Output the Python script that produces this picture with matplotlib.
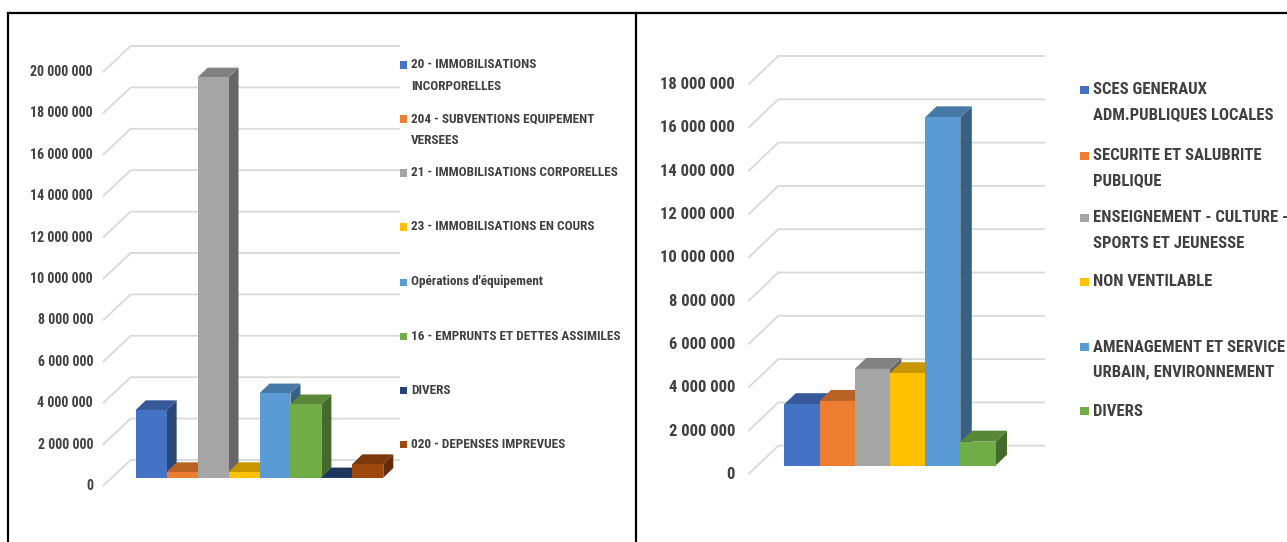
import matplotlib.pyplot as plt
import matplotlib.colors as mcolors
from matplotlib import font_manager
from matplotlib.patches import Polygon, Rectangle
from matplotlib.lines import Line2D
import numpy as np

# ---- data ----
inv_labels = ['20 - IMMOBILISATIONS\nINCORPORELLES',
              '204 - SUBVENTIONS EQUIPEMENT\nVERSEES',
              '21 - IMMOBILISATIONS CORPORELLES',
              '23 - IMMOBILISATIONS EN COURS',
              "Opérations d'équipement",
              '16 - EMPRUNTS ET DETTES ASSIMILES',
              'DIVERS',
              '020 - DEPENSES IMPREVUES']
inv_values = [3270000, 275000, 19340000, 275000, 4080000, 3550000, 20000, 660000]
inv_colors = ['#4472C4', '#ED7D31', '#A5A5A5', '#FFC000',
              '#5B9BD5', '#70AD47', '#264478', '#9E480E']
inv_ticks = np.arange(0, 20000001, 2000000)

fn_labels = ['SCES GENERAUX\nADM.PUBLIQUES LOCALES',
             'SECURITE ET SALUBRITE\nPUBLIQUE',
             'ENSEIGNEMENT - CULTURE -\nSPORTS ET JEUNESSE',
             'NON VENTILABLE',
             'AMENAGEMENT ET SERVICE\nURBAIN, ENVIRONNEMENT',
             'DIVERS']
fn_values = [2840000, 2990000, 4470000, 4270000, 16090000, 1110000]
fn_colors = ['#4472C4', '#ED7D31', '#A5A5A5', '#FFC000', '#5B9BD5', '#70AD47']
fn_ticks = np.arange(0, 18000001, 2000000)

# ---- fonts ----
installed = {f.name for f in font_manager.fontManager.ttflist}
FONT = next(f for f in ['Liberation Sans Narrow', 'Roboto Condensed', 'DejaVu Sans']
            if f in installed)
plt.rcParams['font.family'] = [FONT, 'DejaVu Sans']
plt.rcParams['font.weight'] = 'bold'
TXT = '#404040'
GRID = '#D9D9D9'

W, H = 1287, 542
fig = plt.figure(figsize=(W / 100, H / 100), dpi=100, facecolor='white')


def shade(c, k):
    r, g, b = mcolors.to_rgb(c)
    return (r * k, g * k, b * k)


def panel(px0, px1, ox, ux, base, uy):
    """axes over a pixel box; x unit = one bar, y unit = 1 million"""
    py0, py1 = 13, H
    ax = fig.add_axes([px0 / W, 1 - py1 / H, (px1 - px0) / W, (py1 - py0) / H])
    ax.set_xlim((px0 - ox) / ux, (px1 - ox) / ux)
    ax.set_ylim((base - py1) / uy, (base - py0) / uy)
    ax.axis('off')
    return ax


def draw_3d(ax, values, colors, ticks, ux, uy, depth, front, back, wall_end,
            label_x, tick_size):
    dx, dy = depth[0] / ux, depth[1] / uy
    fx, fy = front[0] / ux, -front[1] / uy
    bx, by = back[0] / ux, -back[1] / uy
    # side wall + back wall gridlines
    for t in ticks:
        v = t / 1e6
        ax.plot([fx, bx, wall_end], [v + fy, v + by, v + by],
                color=GRID, lw=1.3, zorder=1, solid_capstyle='butt')
        ax.text(label_x, v + fy, f'{t:,}'.replace(',', ' '), ha='right',
                va='center', fontsize=tick_size, color=TXT)
    vals = np.array(values) / 1e6
    xs = np.arange(len(vals))
    for x, v, c in zip(xs, vals, colors):
        side = [(x + 1, 0), (x + 1 + dx, dy), (x + 1 + dx, v + dy), (x + 1, v)]
        top = [(x, v), (x + 1, v), (x + 1 + dx, v + dy), (x + dx, v + dy)]
        ax.add_patch(Polygon(side, closed=True, fc=shade(c, 0.62), ec='none', zorder=3))
        ax.add_patch(Polygon(top, closed=True, fc=shade(c, 0.78), ec='none', zorder=3))
        ax.bar(x, v, width=1, align='edge', color=c, linewidth=0, zorder=3)


def legend(labels, colors, x_mark, x_text, ys, gap, size, box):
    for lab, c, y in zip(labels, colors, ys):
        fig.add_artist(Rectangle((x_mark / W, 1 - (y + box / 2) / H), box / W, box / H,
                                 transform=fig.transFigure, fc=c, ec='none'))
        for k, line in enumerate(lab.split('\n')):
            fig.text(x_text / W, 1 - (y + k * gap) / H, line, ha='left',
                     va='center', fontsize=size, color=TXT)


# left panel: investment spending by account
ax1 = panel(8, 636, ox=135.7, ux=30.95, base=477.7, uy=20.7)
draw_3d(ax1, inv_values, inv_colors, inv_ticks, 30.95, 20.7,
        depth=(10, 9.7), front=(-32.7, 8.3), back=(-5, -17.7),
        wall_end=(400 - 135.7) / 30.95, label_x=(93 - 135.7) / 30.95, tick_size=10)
legend(inv_labels, inv_colors, 400, 411,
       [65, 119, 173, 227, 282, 336, 390, 444], 22, 9.5, 7)

# right panel: spending by function
ax2 = panel(636, W, ox=784.3, ux=35.2, base=465.7, uy=21.65)
draw_3d(ax2, fn_values, fn_colors, fn_ticks, 35.2, 21.65,
        depth=(11.5, 11), front=(-36, 8.6), back=(-6, -20),
        wall_end=(1045 - 784.3) / 35.2, label_x=(735 - 784.3) / 35.2, tick_size=12)
legend(fn_labels, fn_colors, 1080, 1093,
       [90, 156, 218, 282, 347, 411], 25, 12, 8.5)

# panel frames
for xs_, ys_ in [([8, W], [13, 13]), ([8, 8], [13, H]), ([636, 636], [13, H])]:
    fig.add_artist(Line2D([x / W for x in xs_], [1 - y / H for y in ys_],
                          transform=fig.transFigure, color='black', lw=1.6))

fig.savefig('out.png', dpi=100, facecolor='white')
